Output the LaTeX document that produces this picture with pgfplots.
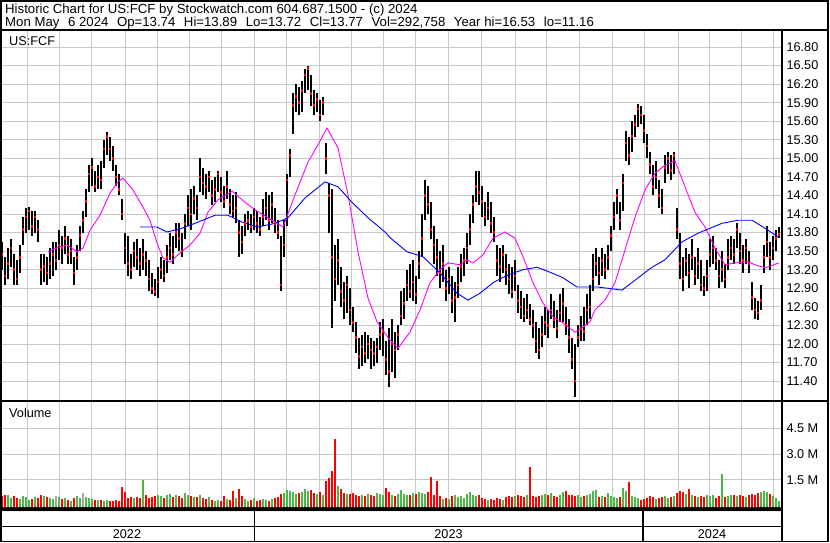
\documentclass[border=0pt]{standalone}
\usepackage{fontspec}
\setmainfont{Liberation Sans}
\usepackage{pgfplots}
\usepackage{pgfplotstable}
\pgfplotsset{compat=1.18}
\definecolor{gridc}{RGB}{200,200,200}
\definecolor{vgreen}{RGB}{76,184,72}
\definecolor{vred}{RGB}{255,0,0}
\definecolor{vgray}{RGB}{165,165,165}
\definecolor{mag}{RGB}{255,0,255}
\definecolor{mablue}{RGB}{0,0,255}
\newcommand{\ds}{\hspace{8.6pt}}

% x = bar position (chart pixels), c = close, h = high, l = low, v = volume (millions), d: 0 down, 1 up, 2 unchanged
\pgfplotstableread{
x c h l v d
2 13.45 13.65 13.20 0.55 0
5 13.10 13.40 12.95 0.60 0
8 13.30 13.55 13.05 0.65 1
11 13.55 13.70 13.25 0.45 1
14 13.20 13.45 12.95 0.55 0
17 13.05 13.35 12.95 0.45 0
20 13.40 13.60 13.15 0.40 1
23 13.85 14.05 13.60 0.55 1
26 14.05 14.20 13.80 0.50 1
29 14.15 14.22 13.85 0.35 1
32 13.90 14.15 13.75 0.40 0
35 14.05 14.15 13.80 0.50 1
38 13.85 14.00 13.65 0.45 0
41 13.20 13.45 12.95 0.60 0
44 13.25 13.45 13.00 0.55 1
47 13.15 13.40 12.95 0.50 0
50 13.30 13.55 13.05 0.45 1
53 13.45 13.65 13.10 0.40 1
56 13.35 13.65 13.20 0.55 2
59 13.60 13.85 13.35 0.50 1
62 13.55 13.75 13.30 0.40 0
65 13.70 13.90 13.45 0.45 1
68 13.45 13.75 13.30 0.35 0
71 13.50 13.70 13.30 0.30 1
74 13.15 13.40 12.95 0.45 0
77 13.40 13.60 13.20 0.55 1
80 13.75 13.90 13.50 0.45 1
83 14.00 14.15 13.80 0.75 2
86 14.30 14.50 14.05 0.50 1
89 14.75 14.90 14.45 0.45 1
92 14.85 15.00 14.55 0.40 1
95 14.55 14.80 14.45 0.35 0
98 14.70 14.90 14.50 0.35 1
101 14.65 14.95 14.50 0.35 0
104 15.15 15.30 14.85 0.30 1
107 15.35 15.42 15.05 0.35 1
110 15.15 15.35 14.95 0.25 0
113 15.00 15.20 14.80 0.30 0
116 14.70 14.90 14.55 0.35 0
119 14.50 14.75 14.40 0.30 0
122 14.10 14.35 14.00 1.10 0
125 13.55 13.80 13.30 0.80 0
128 13.30 13.75 13.10 0.45 0
131 13.20 13.45 13.05 0.50 0
134 13.50 13.65 13.25 0.45 1
137 13.40 13.70 13.20 0.50 0
140 13.30 13.55 13.10 0.45 0
143 13.45 13.70 13.20 1.50 1
146 13.35 13.50 13.10 0.60 0
149 13.05 13.35 12.85 0.45 0
152 12.90 13.15 12.80 0.50 0
155 12.85 13.05 12.78 0.55 0
158 13.00 13.25 12.75 0.60 1
161 13.20 13.40 13.05 0.55 1
164 13.10 13.35 13.00 0.45 0
167 13.40 13.60 13.15 0.60 1
170 13.55 13.80 13.35 0.70 1
173 13.45 13.75 13.30 0.50 0
176 13.80 13.95 13.55 0.65 1
179 13.70 13.95 13.50 0.55 0
182 13.50 13.80 13.40 0.45 0
185 13.95 14.10 13.70 0.75 1
188 14.20 14.40 13.90 0.60 1
191 14.10 14.50 13.85 0.55 0
194 14.35 14.55 14.10 0.50 1
197 14.20 14.40 14.00 0.50 0
200 14.70 15.00 14.45 0.60 1
203 14.60 14.85 14.40 0.45 0
206 14.55 14.75 14.35 0.40 0
209 14.70 14.80 14.45 0.50 1
212 14.40 14.65 14.25 0.35 0
215 14.50 14.70 14.30 0.30 1
218 14.75 14.80 14.45 0.35 1
221 14.45 14.70 14.30 0.30 0
224 14.30 14.55 14.20 0.55 0
227 14.55 14.80 14.35 0.40 1
230 14.25 14.50 14.10 0.35 0
233 14.15 14.40 14.05 0.85 0
236 14.20 14.45 13.95 0.45 1
239 13.80 14.00 13.40 1.00 0
242 13.65 13.90 13.45 0.55 0
245 13.95 14.10 13.75 0.40 1
248 14.00 14.15 13.85 0.30 1
251 13.90 14.10 13.80 0.35 0
254 14.05 14.20 13.85 0.45 1
257 13.95 14.15 13.80 0.30 0
260 13.85 14.05 13.75 0.35 0
263 14.05 14.35 13.90 0.40 1
266 14.20 14.45 14.00 0.35 1
269 14.00 14.40 13.85 0.30 0
272 14.25 14.45 13.95 0.40 1
275 13.95 14.20 13.80 0.45 0
278 13.80 14.00 13.70 0.50 0
281 12.95 13.75 12.85 0.70 0
284 13.60 14.00 13.40 0.75 1
287 14.65 14.75 13.90 0.90 1
290 15.05 15.15 14.70 0.85 1
293 15.85 16.05 15.40 0.80 1
296 16.00 16.20 15.75 0.70 1
299 15.90 16.15 15.70 0.75 0
302 16.10 16.25 15.75 0.80 1
305 16.35 16.45 16.05 0.95 1
308 16.45 16.50 16.10 0.85 1
311 16.05 16.35 15.85 0.90 0
314 15.85 16.10 15.70 0.75 0
317 15.95 16.05 15.75 0.70 1
320 15.70 15.95 15.60 0.80 0
323 15.90 16.00 15.70 0.65 1
326 15.00 15.25 14.75 1.45 0
329 14.40 14.60 13.80 1.60 0
332 13.40 14.50 12.25 2.00 0
335 13.05 13.60 12.70 3.85 0
338 13.35 13.70 12.95 1.15 1
341 12.85 13.25 12.60 0.95 0
344 12.70 13.00 12.40 0.75 0
347 12.95 13.10 12.50 0.70 1
350 12.55 12.90 12.30 0.70 0
353 12.35 12.60 12.20 0.75 0
356 12.10 12.35 11.85 0.65 0
359 11.80 12.10 11.60 0.55 0
362 11.95 12.15 11.65 0.60 1
365 11.85 12.20 11.70 0.55 0
368 12.00 12.15 11.75 0.70 1
371 11.90 12.10 11.60 0.60 0
374 11.85 12.05 11.65 0.55 0
377 11.95 12.10 11.70 0.75 1
380 12.15 12.35 11.90 0.70 1
383 12.20 12.40 11.80 0.65 1
386 11.75 12.05 11.50 1.05 0
389 11.55 12.25 11.30 0.80 0
392 12.00 12.40 11.55 0.60 1
395 11.90 12.20 11.45 0.55 0
398 12.15 12.30 11.90 0.70 1
401 12.45 12.85 12.30 0.90 1
404 12.65 12.90 12.40 0.70 1
407 12.95 13.20 12.70 0.65 1
410 12.85 13.30 12.75 0.60 0
413 13.00 13.35 12.70 0.75 1
416 12.80 13.10 12.65 0.70 0
419 13.30 13.50 13.05 0.80 1
422 13.70 14.10 13.40 0.75 1
425 14.40 14.65 14.00 0.70 1
428 14.25 14.55 14.10 0.80 0
431 13.85 14.30 13.70 1.70 0
434 13.60 13.90 13.30 0.60 0
437 13.40 13.70 13.10 1.45 0
440 13.15 13.50 12.90 0.55 0
443 13.30 13.60 13.00 0.40 1
446 12.90 13.20 12.70 0.45 0
449 13.05 13.25 12.80 0.40 1
452 12.70 13.10 12.50 0.55 0
455 12.75 13.00 12.35 0.60 1
458 12.95 13.25 12.75 0.50 1
461 13.25 13.45 13.00 0.55 1
464 13.35 13.55 13.10 0.45 1
467 13.55 13.80 13.30 0.70 1
470 13.85 14.10 13.60 0.80 1
473 14.25 14.40 13.95 0.65 1
476 14.55 14.80 14.30 0.55 1
479 14.45 14.80 14.25 0.60 0
482 14.30 14.55 14.05 0.45 0
485 14.05 14.30 13.90 0.40 0
488 14.20 14.45 14.00 0.35 1
491 13.95 14.30 13.80 0.40 0
494 13.80 14.05 13.65 0.35 0
497 13.35 13.60 13.10 0.45 0
500 13.25 13.55 13.00 0.40 0
503 13.45 13.60 13.15 0.35 1
506 13.20 13.45 12.95 0.50 0
509 13.05 13.30 12.80 0.55 0
512 12.85 13.25 12.75 0.50 0
515 13.10 13.35 12.85 0.55 1
518 12.70 12.95 12.50 0.60 0
521 12.60 12.85 12.40 0.55 0
524 12.45 12.75 12.35 0.50 0
527 12.55 12.80 12.40 0.65 1
530 12.40 12.65 12.30 2.25 0
533 12.30 12.55 12.10 0.55 0
536 12.05 12.35 11.85 0.50 0
539 11.90 12.25 11.75 0.55 0
542 12.15 12.45 11.95 0.65 1
545 12.35 12.60 12.15 0.70 1
548 12.30 12.55 12.10 0.60 0
551 12.55 12.80 12.40 0.75 1
554 12.40 12.70 12.25 0.55 0
557 12.25 12.55 12.10 0.50 0
560 12.50 12.80 12.35 0.65 1
563 12.65 12.90 12.35 0.80 1
566 12.30 12.60 12.15 0.85 0
569 12.10 12.40 11.85 0.60 0
572 11.75 12.10 11.60 0.65 0
575 11.40 12.00 11.15 0.55 0
578 12.10 12.30 11.95 0.60 1
581 12.25 12.45 12.05 0.50 1
584 12.20 12.60 12.05 0.55 0
587 12.55 12.80 12.30 0.60 1
590 12.60 12.95 12.40 0.70 1
593 13.05 13.45 12.85 0.85 1
596 13.30 13.55 13.10 0.90 1
599 13.15 13.40 12.95 0.50 0
602 13.35 13.55 13.10 0.55 1
605 13.20 13.45 13.05 0.50 0
608 13.40 13.60 13.20 0.75 1
611 13.75 13.90 13.50 0.55 1
614 14.05 14.30 13.85 0.50 1
617 14.40 14.50 14.10 0.45 1
620 14.00 14.30 13.85 0.50 0
623 14.60 14.75 14.15 1.05 1
626 15.25 15.45 14.95 0.85 1
629 15.05 15.35 14.90 1.40 0
632 15.35 15.60 15.10 0.55 1
635 15.55 15.70 15.35 0.50 1
638 15.80 15.88 15.50 0.45 1
641 15.70 15.85 15.55 0.35 0
644 15.45 15.70 15.25 0.40 0
647 15.20 15.40 15.00 0.45 0
650 14.90 15.10 14.75 0.55 0
653 14.55 14.90 14.40 0.50 0
656 14.70 14.95 14.50 0.40 1
659 14.40 14.65 14.20 0.45 0
662 14.20 14.50 14.10 0.50 0
665 14.85 15.05 14.60 0.55 1
668 15.00 15.10 14.75 0.45 1
671 14.80 15.05 14.65 0.50 0
674 15.05 15.10 14.75 0.55 1
677 13.85 14.20 13.70 0.75 0
680 13.30 13.80 13.05 0.85 0
683 13.05 13.40 12.85 0.80 0
686 13.35 13.55 13.10 0.70 1
689 13.15 13.45 12.90 0.95 0
692 13.40 13.70 13.20 0.60 1
695 13.10 13.40 12.95 0.55 0
698 13.30 13.55 13.05 0.50 1
701 12.95 13.35 12.85 0.55 0
704 12.90 13.10 12.78 0.50 0
707 13.10 13.35 12.85 0.60 1
710 13.45 13.70 13.25 0.55 1
713 13.55 13.75 13.30 0.65 1
716 13.35 13.55 13.20 0.45 0
719 13.10 13.35 12.90 0.55 0
722 13.20 13.50 13.00 1.85 1
725 13.05 13.30 12.90 0.50 0
728 13.40 13.70 13.20 0.55 1
731 13.55 13.75 13.35 0.60 1
734 13.45 13.70 13.30 0.65 0
737 13.85 13.95 13.55 0.55 1
740 13.50 13.80 13.30 0.60 0
743 13.35 13.60 13.15 0.55 0
746 13.55 13.70 13.30 0.50 1
749 13.30 13.50 13.15 0.65 0
752 12.75 13.00 12.55 0.70 0
755 12.55 12.75 12.40 0.60 0
758 12.50 12.70 12.38 0.75 0
761 12.70 12.95 12.55 0.80 1
764 13.40 13.60 13.15 0.85 1
767 13.65 13.90 13.40 0.80 1
770 13.40 13.65 13.20 0.70 0
773 13.55 13.75 13.35 0.55 1
776 13.70 13.85 13.50 0.45 1
779 13.77 13.89 13.72 0.30 1
}\ohlc

% short moving average (magenta)
\pgfplotstableread{
x m
48 13.49
58 13.56
67 13.60
77 13.49
83 13.55
90 13.84
100 14.08
110 14.44
118 14.62
123 14.68
133 14.49
143 14.21
150 14.00
157 13.63
163 13.39
170 13.32
180 13.47
190 13.60
200 13.79
208 14.13
218 14.33
232 14.47
245 14.29
255 14.17
272 14.00
283 13.89
295 14.41
308 14.94
318 15.22
327 15.49
338 15.17
348 14.41
358 13.49
368 12.74
377 12.36
390 12.06
398 11.93
410 12.19
420 12.55
430 12.99
440 13.20
448 13.31
460 13.28
467 13.36
473 13.31
483 13.44
493 13.71
505 13.81
515 13.71
523 13.41
533 12.99
543 12.66
553 12.44
563 12.34
575 12.19
582 12.26
590 12.36
595 12.55
605 12.71
615 12.99
625 13.52
635 14.05
645 14.49
655 14.76
665 14.89
675 14.96
685 14.54
695 14.13
705 13.89
715 13.55
725 13.28
735 13.31
748 13.33
755 13.28
765 13.23
779 13.31
}\maA

% long moving average (blue)
\pgfplotstableread{
x m
140 13.89
157 13.89
167 13.81
180 13.86
195 13.95
215 14.08
228 14.08
242 13.97
258 13.89
275 13.95
288 14.04
305 14.36
325 14.62
338 14.54
352 14.29
368 14.04
385 13.81
390 13.72
395 13.65
407 13.49
423 13.41
440 13.15
457 12.82
468 12.71
480 12.82
493 12.99
507 13.11
523 13.20
537 13.24
550 13.16
563 13.07
577 12.92
598 12.92
622 12.87
635 13.03
652 13.24
665 13.36
682 13.65
698 13.79
722 13.95
738 14.00
752 14.00
765 13.87
778 13.73
}\maB

\pgfplotsset{
  swgrid/.style={
    scale only axis, width=780pt,
    xmin=1, xmax=781,
    enlargelimits=false,
    axis line style={draw=none},
    xtick={27.3,59.3,91.7,125,157.3,189.3,221.7,254.3,286.7,319,351,383.3,415.7,448.3,481.7,515.7,546,579.3,612.3,644.3,678.3,709.3,741,773.3},
    xticklabels={},
    major tick length=0pt,
    grid=major,
    major grid style={gridc, line width=0.9pt},
    yticklabel pos=right,
    tick label style={font=\fontsize{12.7}{14}\selectfont},
    yticklabel style={anchor=west, xshift=2pt},
  }
}

\begin{document}
\begin{tikzpicture}[x=1pt,y=1pt,font=\fontsize{12.7}{14}\selectfont]
\path[use as bounding box] (0,0) rectangle (830,543);

% price panel
\begin{axis}[swgrid, anchor=south west, at={(1pt,143pt)}, height=369pt,
  ymin=11.094, ymax=17.059,
  ytick={11.4,11.7,12.0,12.3,12.6,12.9,13.2,13.5,13.8,14.1,14.4,14.7,15.0,15.3,15.6,15.9,16.2,16.5,16.8},
  yticklabel style={/pgf/number format/.cd, fixed, fixed zerofill, precision=2, assume math mode=true}]
\addplot[only marks, mark=square*, mark size=0.8pt,
  mark options={fill=vred, draw=vred, line width=0pt},
  error bars/.cd, y dir=both, y explicit, error mark=none,
  error bar style={draw=black, line width=1.6pt}]
  table[x=x, y=c, y error plus expr=\thisrow{h}-\thisrow{c}, y error minus expr=\thisrow{c}-\thisrow{l}]{\ohlc};
\addplot[only marks, mark=square*, mark size=0.8pt,
  mark options={fill=vred, draw=vred, line width=0pt}]
  table[x=x, y=c]{\ohlc};
\addplot[mag, line width=0.9pt] table[x=x, y=m]{\maA};
\addplot[mablue, line width=0.9pt] table[x=x, y=m]{\maB};
\end{axis}

% volume panel
\begin{axis}[swgrid, anchor=south west, at={(1pt,34pt)}, height=107pt,
  ymin=-0.186, ymax=6.024,
  ytick={1.5,3,4.5}, yticklabels={1.5 M,3.0 M,4.5 M}]
\addplot[only marks, mark=none, restrict expr to domain={\thisrow{d}}{0:0},
  error bars/.cd, y dir=plus, y explicit, error mark=none,
  error bar style={draw=vred, line width=2.3pt}]
  table[x=x, y expr=-0.186, y error plus expr=\thisrow{v}+0.186]{\ohlc};
\addplot[only marks, mark=none, restrict expr to domain={\thisrow{d}}{1:1},
  error bars/.cd, y dir=plus, y explicit, error mark=none,
  error bar style={draw=vgreen, line width=2.3pt}]
  table[x=x, y expr=-0.186, y error plus expr=\thisrow{v}+0.186]{\ohlc};
\addplot[only marks, mark=none, restrict expr to domain={\thisrow{d}}{2:2},
  error bars/.cd, y dir=plus, y explicit, error mark=none,
  error bar style={draw=vgray, line width=2.3pt}]
  table[x=x, y expr=-0.186, y error plus expr=\thisrow{v}+0.186]{\ohlc};
\end{axis}

% frame
\draw[line width=1.6pt] (0.8,1.5) rectangle (827.7,542.2);
\draw[line width=1.6pt] (0,513) -- (829,513);
\draw[line width=1.6pt] (0,142) -- (829,142);
\draw[line width=1.6pt] (781.8,513) -- (781.8,0.8);
\draw[line width=1.6pt] (0,33.2) -- (781.8,33.2);
\draw[line width=1.2pt] (0,16.3) -- (781.8,16.3);
\draw[line width=1.2pt] (254.3,33.2) -- (254.3,1.5);
\draw[line width=1.2pt] (643,33.2) -- (643,1.5);

% texts
\node[anchor=base west, inner sep=0pt, font=\fontsize{13.2}{15}\selectfont] at (5,529.5) {Historic Chart for US:FCF by Stockwatch.com 604.687.1500 - (c) 2024};
\node[anchor=base west, inner sep=0pt, font=\fontsize{13.2}{15}\selectfont] at (5,516) {Mon May\ds6 2024\ds Op=13.74\ds Hi=13.89\ds Lo=13.72\ds Cl=13.77\ds Vol=292,758\ds Year hi=16.53\ds lo=11.16};
\node[anchor=base west, inner sep=0pt] at (9,497) {US:FCF};
\node[anchor=base west, inner sep=0pt] at (9,125.4) {Volume};
\node at (127,8.5) {2022};
\node at (448.5,8.5) {2023};
\node at (712,8.5) {2024};
\end{tikzpicture}
\end{document}
